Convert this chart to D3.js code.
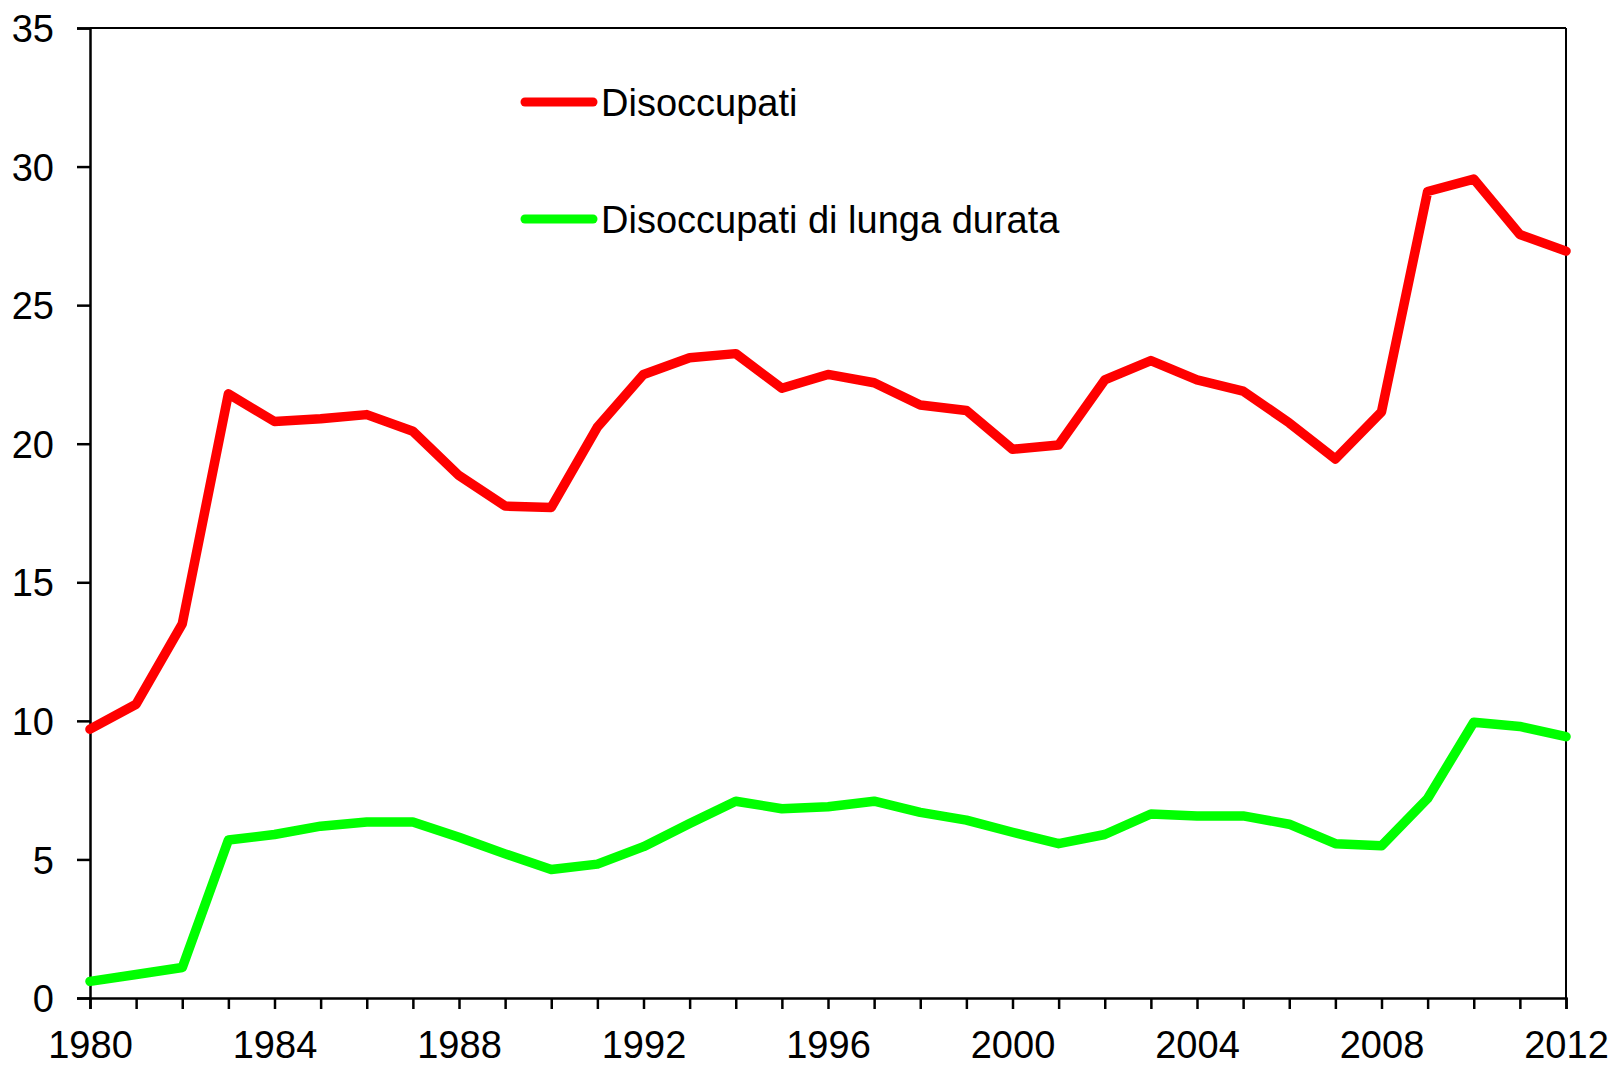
<!DOCTYPE html>
<html>
<head>
<meta charset="utf-8">
<script src="https://cdn.jsdelivr.net/npm/d3@7"></script>
<style>
html,body{margin:0;padding:0;background:#fff;}
svg{display:block;font-family:"Liberation Sans",Arial,sans-serif;}
</style>
</head>
<body>
<svg id="chart" width="1614" height="1065"></svg>
<script>
const years = d3.range(1980, 2013);
const disoccupati = [9.7,10.6,13.5,21.8,20.8,20.9,21.05,20.45,18.85,17.75,17.7,20.6,22.5,23.1,23.25,22.0,22.5,22.2,21.4,21.2,19.8,19.95,22.3,23.0,22.3,21.9,20.75,19.45,21.15,29.1,29.55,27.55,26.95];
const lungaDurata = [0.6,0.85,1.1,5.7,5.9,6.2,6.35,6.35,5.8,5.2,4.64,4.83,5.46,6.3,7.1,6.83,6.9,7.1,6.7,6.42,5.98,5.57,5.9,6.64,6.57,6.57,6.27,5.57,5.49,7.2,9.95,9.8,9.43];
const yTicks = [0,5,10,15,20,25,30,35];
const xTickLabels = [1980,1984,1988,1992,1996,2000,2004,2008,2012];
const seriesNames = ["Disoccupati","Disoccupati di lunga durata"];
const seriesColors = ["#ff0000","#00ff00"];

const svg = d3.select("#chart");
const L = 90, R = 1566, T = 28, B = 998;
const x = d3.scaleLinear().domain([1980, 2012]).range([L, R]);
const y = d3.scaleLinear().domain([0, 35]).range([B, T]);

// frame: top and right borders
svg.append("line").attr("x1", L).attr("x2", R).attr("y1", T).attr("y2", T)
  .attr("stroke", "#000").attr("stroke-width", 2);
svg.append("line").attr("x1", R).attr("x2", R).attr("y1", T).attr("y2", B)
  .attr("stroke", "#000").attr("stroke-width", 2);

// y axis
const yAxis = d3.axisLeft(y).tickValues(yTicks).tickSize(13).tickPadding(23).tickFormat(d3.format("d"));
const gy = svg.append("g").attr("transform", `translate(${L},0)`).call(yAxis);
gy.select(".domain").attr("stroke", "#000").attr("stroke-width", 2.5);
gy.selectAll(".tick line").attr("stroke", "#000").attr("stroke-width", 2.5);
gy.selectAll(".tick text").attr("font-size", 38).attr("fill", "#000")
  .attr("font-family", "'Liberation Sans', Arial, sans-serif").attr("dy", "0.36em");

// x axis
const xAxis = d3.axisBottom(x).tickValues(years).tickSize(11).tickPadding(22)
  .tickFormat(d => xTickLabels.includes(d) ? String(d) : "");
const gx = svg.append("g").attr("transform", `translate(0,${B})`).call(xAxis);
gx.select(".domain").attr("stroke", "#000").attr("stroke-width", 2.5);
gx.selectAll(".tick line").attr("stroke", "#000").attr("stroke-width", 2.5);
gx.selectAll(".tick text").attr("font-size", 38).attr("fill", "#000")
  .attr("font-family", "'Liberation Sans', Arial, sans-serif").attr("dy", "0.71em");

// lines
const line = d3.line().x((d, i) => x(years[i])).y(d => y(d));
[disoccupati, lungaDurata].forEach((s, k) => {
  svg.append("path").datum(s).attr("d", line)
    .attr("fill", "none").attr("stroke", seriesColors[k]).attr("stroke-width", 9.5)
    .attr("stroke-linejoin", "round").attr("stroke-linecap", "round");
});

// legend
const legY = [102, 219];
seriesNames.forEach((n, k) => {
  svg.append("line").attr("x1", 525).attr("x2", 593).attr("y1", legY[k]).attr("y2", legY[k])
    .attr("stroke", seriesColors[k]).attr("stroke-width", 9).attr("stroke-linecap", "round");
  svg.append("text").attr("x", 601).attr("y", legY[k] + 14).text(n)
    .attr("font-size", 38).attr("fill", "#000");
});
</script>
</body>
</html>
